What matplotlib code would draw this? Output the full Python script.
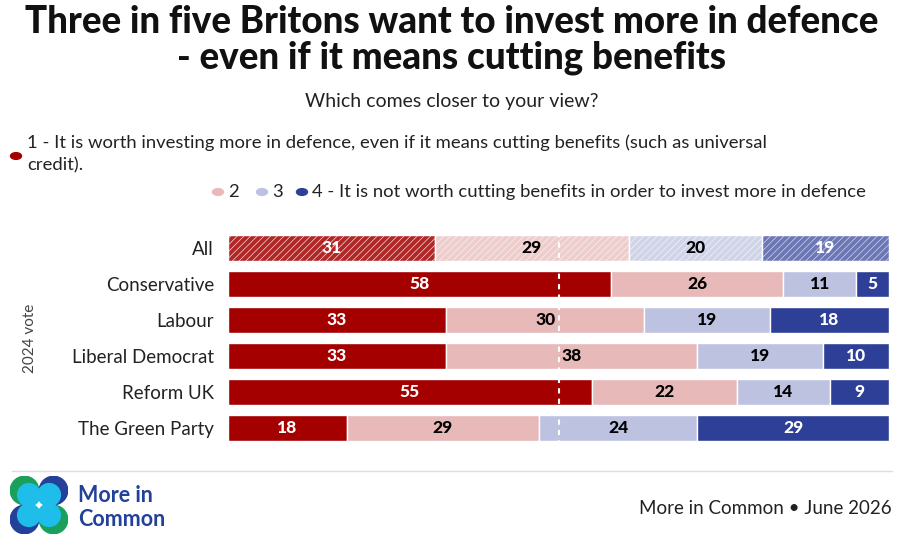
import matplotlib.pyplot as plt
from matplotlib.patches import Circle, Ellipse

groups = ["All", "Conservative", "Labour", "Liberal Democrat", "Reform UK", "The Green Party"]
v1 = [31, 58, 33, 33, 55, 18]
v2 = [29, 26, 30, 38, 22, 29]
v3 = [20, 11, 19, 19, 14, 24]
v4 = [19, 5, 18, 10, 9, 29]
colors = ["#a50000", "#e8b9b9", "#bcc2e0", "#2e3f98"]
txtcol = ["white", "black", "black", "white"]

plt.rcParams['font.family'] = ['Lato', 'DejaVu Sans']
plt.rcParams['hatch.linewidth'] = 0.5

fig = plt.figure(figsize=(9.04, 5.52), dpi=100)
W, H = 904, 552
def fx(x): return x / W
def fy(y): return 1 - y / H

fig.text(0.5, fy(22), "Three in five Britons want to invest more in defence", ha='center', va='center',
         fontsize=26.5, fontweight='black', color='#111111')
fig.text(0.5, fy(58), "- even if it means cutting benefits", ha='center', va='center',
         fontsize=26.5, fontweight='black', color='#111111')
fig.text(0.5, fy(102), "Which comes closer to your view?", ha='center', va='center', fontsize=14, color='#222222')

# legend
fig.patches.append(Circle((fx(16), fy(156)), 5.5 / W, transform=fig.transFigure, color=colors[0]))
fig.text(fx(27), fy(143), "1 - It is worth investing more in defence, even if it means cutting benefits (such as universal",
         va='center', fontsize=13.3, color='#222222')
fig.text(fx(27), fy(165), "credit).", va='center', fontsize=13.3, color='#222222')
for x, lab, c in [(218, "2", colors[1]), (262, "3", colors[2]), (302, "4 - It is not worth cutting benefits in order to invest more in defence", colors[3])]:
    fig.patches.append(Circle((fx(x), fy(192)), 5.5 / W, transform=fig.transFigure, color=c))
    fig.text(fx(x + 10), fy(192), lab, va='center', fontsize=13.3, color='#222222')

ax = fig.add_axes([fx(228), fy(446), fx(889) - fx(228), 216 / H])
ax.set_xlim(0, 100)
ax.set_ylim(5.5, -0.5)
series = [v1, v2, v3, v4]
for i, g in enumerate(groups):
    total = sum(s[i] for s in series)
    left = 0
    for k, vals in enumerate(series):
        v = vals[i]
        w = v * 100 / total
        if i == 0:
            ax.barh(i, w, left=left, height=0.72, color=colors[k], alpha=0.7 if k != 0 else 0.85,
                    hatch='/////', edgecolor='white', linewidth=0)
            ax.barh(i, w, left=left, height=0.72, fill=False, edgecolor='white', linewidth=1)
        else:
            ax.barh(i, w, left=left, height=0.72, color=colors[k], edgecolor='white', linewidth=1)
        ax.text(left + w / 2, i, str(v), ha='center', va='center', fontsize=12.5,
                fontweight='black', color=txtcol[k])
        left += w
ax.plot([50, 50], [-0.45, 5.45], ls=(0, (2.5, 2.5)), color='white', lw=1.5)
ax.set_yticks(range(len(groups)))
ax.set_yticklabels(groups, fontsize=13.5, color='#222222')
ax.tick_params(length=0, pad=10)
ax.set_xticks([])
for s in ax.spines.values():
    s.set_visible(False)
fig.text(fx(30), fy(338), "2024 vote", rotation=90, ha='center', va='center', fontsize=11, color='#444444')

# footer
fig.add_artist(plt.Line2D([fx(12), fx(892)], [fy(471), fy(471)], color='#dddddd', lw=1))
fig.text(fx(892), fy(509), "More in Common • June 2026", ha='right', va='center', fontsize=13.5, color='#222222')
la = fig.add_axes([fx(10), fy(534), 58 / W, 58 / H])
la.set_xlim(0, 4); la.set_ylim(0, 4); la.set_aspect('equal'); la.axis('off')
for cx, cy, c in [(1, 3, '#1aa05a'), (3, 3, '#23409a'), (1, 1, '#23409a'), (3, 1, '#1aa05a')]:
    la.add_patch(Circle((cx, cy), 0.98, color=c))
for cx, cy, dx, dy in [(1, 3, 0.3, -0.3), (3, 3, -0.3, -0.3), (1, 1, 0.3, 0.3), (3, 1, -0.3, 0.3)]:
    la.add_patch(Ellipse((cx + dx, cy + dy), 1.55, 1.55, color='#1fbde9'))
fig.text(fx(78), fy(496), "More in", va='center', fontsize=15.5, fontweight='bold', color='#23409a')
fig.text(fx(78), fy(519), "Common", va='center', fontsize=15.5, fontweight='bold', color='#23409a')

fig.savefig("out.png", dpi=100)
